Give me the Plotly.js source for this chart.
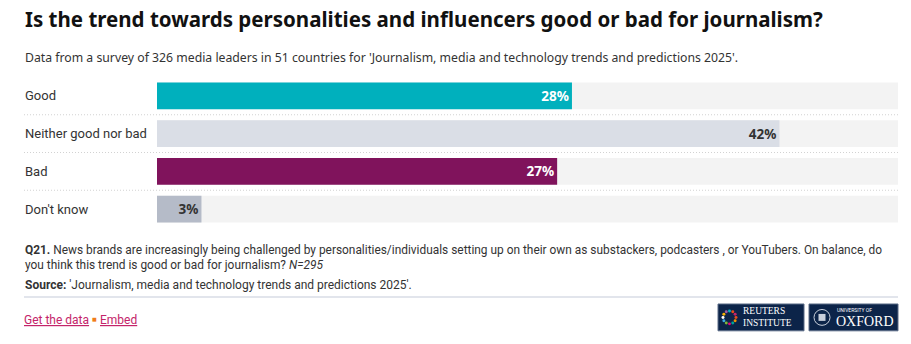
<!DOCTYPE html>
<html>
<head>
<meta charset="utf-8">
<script src="https://cdn.plot.ly/plotly-3.0.1.min.js"></script>
<style>
  html, body { margin: 0; padding: 0; background: #fff; }
  #chart { width: 911px; height: 344px; }
</style>
</head>
<body>
<div id="chart"></div>
<script>
// ---- data ----
const categories = ["Good", "Neither good nor bad", "Bad", "Don't know"];
const values = [28, 42, 27, 3];
const valueLabels = ["28%", "42%", "27%", "3%"];
const scaleMax = 50;
const barColors = ["#00b0bd", "#dadee6", "#80135c", "#b5bbc8"];
const labelColors = ["#ffffff", "#333333", "#ffffff", "#333333"];

const titleText = "Is the trend towards personalities and influencers good or bad for journalism?";
const subtitleText = "Data from a survey of 326 media leaders in 51 countries for 'Journalism, media and technology trends and predictions 2025'.";
const noteText = "<b>Q21.</b> News brands are increasingly being challenged by personalities/individuals setting up on their own as substackers, podcasters , or YouTubers. On balance, do<br>you think this trend is good or bad for journalism? <i>N=295</i>";
const sourceText = "<b>Source:</b> 'Journalism, media and technology trends and predictions 2025'.";

// ---- layout helpers (pixel -> paper) ----
const W = 911, H = 344;
const PL = 157, PR = 898, PT = 76.5, PB = 228.5;
const px = x => (x - PL) / (PR - PL);
const py = y => (PB - y) / (PB - PT);
const FONT = "Roboto, 'Noto Sans', sans-serif";
const WIDE = "'Noto Sans', Roboto, sans-serif";

const bgTrace = {
  type: "bar", orientation: "h",
  y: categories, x: categories.map(() => scaleMax),
  marker: { color: "#f3f3f3" }, width: 0.71,
  hoverinfo: "skip", showlegend: false
};
const dataTrace = {
  type: "bar", orientation: "h",
  y: categories, x: values,
  text: valueLabels, textposition: "inside", insidetextanchor: "end",
  constraintext: "none",
  textfont: { family: WIDE, size: 13.5, color: labelColors, weight: 700 },
  marker: { color: barColors }, width: 0.71,
  hoverinfo: "skip", showlegend: false
};

const annotations = [];
annotations.push({ xref: "paper", yref: "paper", x: px(23), y: py(18), xanchor: "left", yanchor: "middle",
  text: "<b>" + titleText + "</b>", showarrow: false, font: { family: WIDE, size: 20.5, color: "#111" } });
annotations.push({ xref: "paper", yref: "paper", x: px(23), y: py(57), xanchor: "left", yanchor: "middle",
  text: subtitleText, showarrow: false, font: { family: WIDE, size: 12.25, color: "#333" } });
categories.forEach(c => annotations.push({ xref: "paper", yref: "y", x: px(23), y: c, xanchor: "left", yanchor: "middle",
  text: c, showarrow: false, font: { family: FONT, size: 13, color: "#333" } }));
annotations.push({ xref: "paper", yref: "paper", x: px(23), y: py(242), xanchor: "left", yanchor: "top", align: "left",
  text: noteText, showarrow: false, font: { family: FONT, size: 11.9, color: "#333" } });
annotations.push({ xref: "paper", yref: "paper", x: px(23), y: py(286), xanchor: "left", yanchor: "middle",
  text: sourceText, showarrow: false, font: { family: FONT, size: 12, color: "#333" } });
annotations.push({ xref: "paper", yref: "paper", x: px(22), y: py(321), xanchor: "left", yanchor: "middle",
  text: "Get the data", showarrow: false, font: { family: FONT, size: 12, color: "#c4246a", lineposition: "under" } });
annotations.push({ xref: "paper", yref: "paper", x: px(94), y: py(320.5), xanchor: "center", yanchor: "middle",
  text: "■", showarrow: false, font: { family: "'DejaVu Sans', sans-serif", size: 5, color: "#f07c1a" } });
annotations.push({ xref: "paper", yref: "paper", x: px(98), y: py(321), xanchor: "left", yanchor: "middle",
  text: "Embed", showarrow: false, font: { family: FONT, size: 12, color: "#c4246a", lineposition: "under" } });
// logos text
annotations.push({ xref: "paper", yref: "paper", x: px(741), y: py(318.5), xanchor: "left", yanchor: "middle", align: "left",
  text: "REUTERS<br>INSTITUTE", showarrow: false, font: { family: "'Liberation Serif', serif", size: 9.5, color: "#ffffff" } });
annotations.push({ xref: "paper", yref: "paper", x: px(835), y: py(311), xanchor: "left", yanchor: "middle",
  text: "UNIVERSITY OF", showarrow: false, font: { family: FONT, size: 5, color: "#ffffff" } });
annotations.push({ xref: "paper", yref: "paper", x: px(834), y: py(323), xanchor: "left", yanchor: "middle",
  text: "OXFORD", showarrow: false, font: { family: "'Liberation Serif', serif", size: 14, color: "#ffffff" } });

const shapes = [];
[0.5, 1.5, 2.5].forEach(v => shapes.push({ type: "line", xref: "paper", yref: "y", x0: px(24), x1: 1, y0: v, y1: v,
  line: { color: "#d2d2d2", width: 1, dash: "1px,2px" } }));
shapes.push({ type: "line", xref: "paper", yref: "paper", x0: px(24), x1: 1, y0: py(298), y1: py(298),
  line: { color: "#d8dde6", width: 1.5 } });
// logo boxes
shapes.push({ type: "rect", xref: "paper", yref: "paper", x0: px(718), x1: px(804), y0: py(332), y1: py(305),
  fillcolor: "#0c2449", line: { color: "#5a6b86", width: 1 } });
shapes.push({ type: "rect", xref: "paper", yref: "paper", x0: px(809), x1: px(898), y0: py(332), y1: py(305),
  fillcolor: "#0c2449", line: { color: "#5a6b86", width: 1 } });
// reuters ring of dots
const dotCols = ["#e94e1b", "#f39200", "#00a19a", "#e6007e", "#7fb539", "#3ca9e0", "#ffffff", "#f9b000", "#9c5ba2", "#00b0bd", "#e94e1b", "#c4246a"];
for (let i = 0; i < 12; i++) {
  const a = i / 12 * 2 * Math.PI;
  const cx = 729.5 + 6.5 * Math.cos(a), cy = 318.5 + 6.5 * Math.sin(a);
  shapes.push({ type: "circle", xref: "paper", yref: "paper", x0: px(cx - 1.5), x1: px(cx + 1.5), y0: py(cy + 1.5), y1: py(cy - 1.5),
    fillcolor: dotCols[i], line: { width: 0 } });
}
// oxford crest
shapes.push({ type: "circle", xref: "paper", yref: "paper", x0: px(814), x1: px(830), y0: py(326.5), y1: py(310.5),
  fillcolor: "rgba(0,0,0,0)", line: { color: "#c9d0dc", width: 1 } });
shapes.push({ type: "rect", xref: "paper", yref: "paper", x0: px(818.5), x1: px(825.5), y0: py(322), y1: py(315),
  fillcolor: "#c9d0dc", line: { width: 0 } });

const layout = {
  width: W, height: H,
  margin: { l: PL, r: W - PR, t: PT, b: H - PB, pad: 0 },
  paper_bgcolor: "#ffffff", plot_bgcolor: "#ffffff",
  barmode: "overlay",
  showlegend: false,
  xaxis: { range: [0, scaleMax], visible: false, fixedrange: true },
  yaxis: { autorange: "reversed", visible: false, fixedrange: true },
  annotations, shapes,
  font: { family: FONT }
};

Plotly.newPlot("chart", [bgTrace, dataTrace], layout, { displayModeBar: false, staticPlot: true });
</script>
</body>
</html>
